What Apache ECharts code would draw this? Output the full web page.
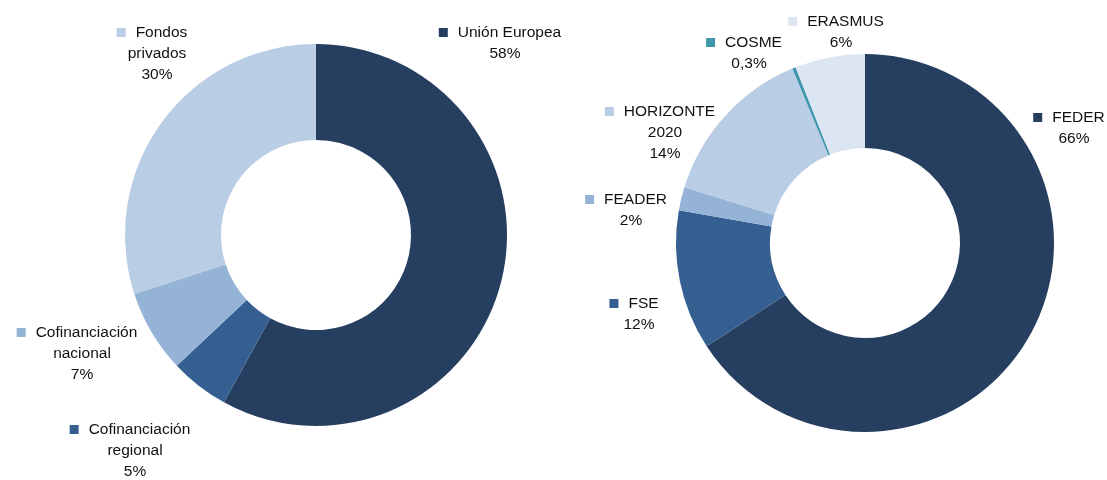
<!DOCTYPE html>
<html>
<head>
<meta charset="utf-8">
<script src="https://cdn.jsdelivr.net/npm/echarts@6/dist/echarts.min.js"></script>
<style>
html, body { margin: 0; padding: 0; background: #fff; }
#chart { width: 1107px; height: 480px; }
</style>
</head>
<body>
<div id="chart"></div>
<script>
// financiación total
var leftNames = ['Unión Europea', 'Cofinanciación\nregional', 'Cofinanciación\nnacional', 'Fondos\nprivados'];
var leftValues = [58, 5, 7, 30];
var leftColors = ['#263F60', '#365F91', '#95B3D7', '#B9CDE5'];
var leftLabelPos = [[505, 22], [135, 419], [82, 322], [157, 22]];

// reparto fondos europeos
var rightNames = ['FEDER', 'FSE', 'FEADER', 'HORIZONTE\n2020', 'COSME', 'ERASMUS'];
var rightValues = [66, 12, 2, 14, 0.3, 6];
var rightColors = ['#263F60', '#365F91', '#95B3D7', '#B9CDE5', '#3F97AC', '#DCE6F2'];
var rightLabelPos = [[1074, 107], [639, 293], [631, 189], [665, 101], [749, 32], [841, 11]];

var fontFamily = '"Liberation Sans", Arial, sans-serif';

function buildData(names, values, colors) {
	return names.map(function(n, i) {
		var lines = n.split('\n');
		var first = '{sq|}{g|}' + lines[0] + '{g|}';
		var rest = lines.slice(1);
		var pct = String(values[i]).replace('.', ',') + '%';
		var txt = [first].concat(rest).concat([pct]).join('\n');
		return {
			name : n.replace('\n', ' '),
			value : values[i],
			itemStyle : { color : colors[i] },
			label : {
				formatter : txt,
				rich : {
					sq : { width : 9, height : 9, backgroundColor : colors[i] },
					g : { width : 10 }
				}
			}
		};
	});
}

function pieSeries(names, values, colors, center, radius, pos) {
	return {
		type : 'pie',
		center : center,
		radius : radius,
		startAngle : 90,
		clockwise : true,
		silent : true,
		animation : false,
		labelLine : { show : false },
		label : {
			show : true,
			position : 'outside',
			overflow : 'none',
			color : '#111',
			fontFamily : fontFamily,
			fontSize : 15.5,
			lineHeight : 21,
			align : 'center'
		},
		labelLayout : function(params) {
			var p = pos[params.dataIndex];
			return { x : p[0], y : p[1], align : 'center', verticalAlign : 'top' };
		},
		data : buildData(names, values, colors)
	};
}

var chart = echarts.init(document.getElementById('chart'));
chart.setOption({
	backgroundColor : '#fff',
	series : [
		pieSeries(leftNames, leftValues, leftColors, [316, 235], [95, 191], leftLabelPos),
		pieSeries(rightNames, rightValues, rightColors, [865, 243], [95, 189], rightLabelPos)
	]
});
</script>
</body>
</html>
